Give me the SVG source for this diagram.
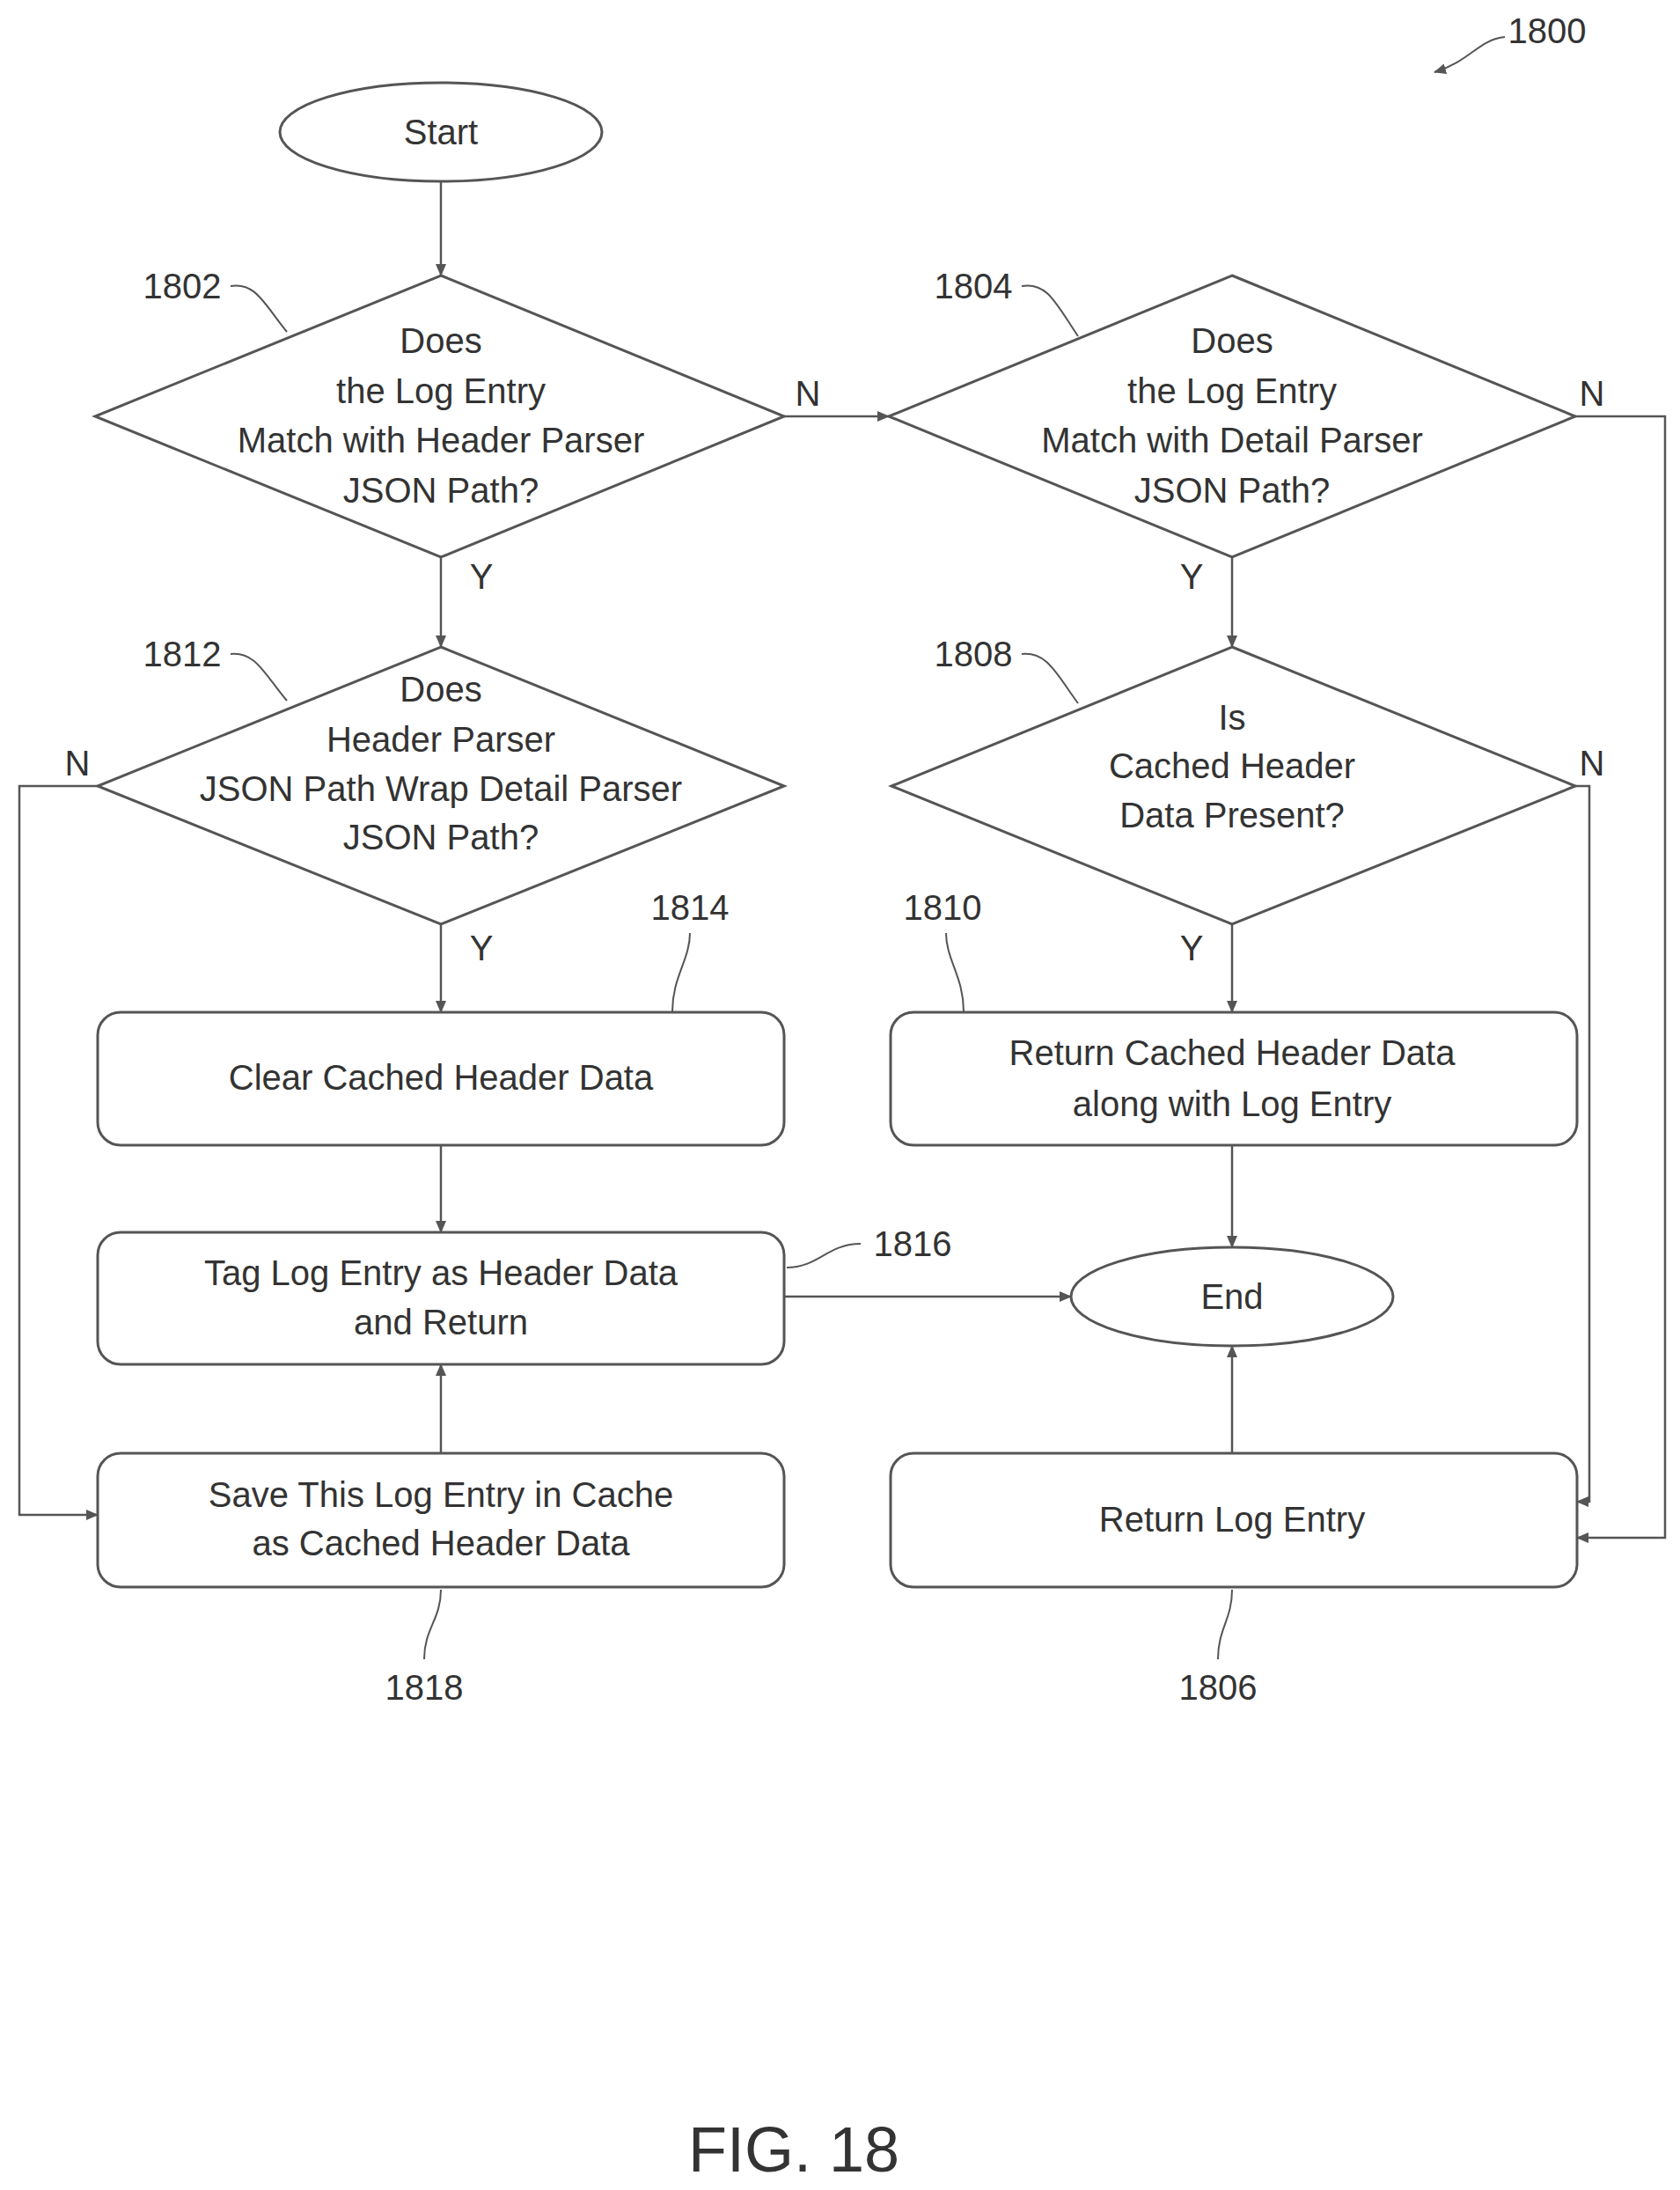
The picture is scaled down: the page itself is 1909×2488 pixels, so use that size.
<svg xmlns="http://www.w3.org/2000/svg" width="1909" height="2488" viewBox="0 0 1909 2488">
<defs>
<marker id="ah" markerWidth="14" markerHeight="12" refX="13" refY="6" orient="auto" markerUnits="userSpaceOnUse"><path d="M0,0 L14,6 L0,12 Z" fill="#555"/></marker>
<style>
.s{fill:#fff;stroke:#555;stroke-width:3}
.c{fill:none;stroke:#555;stroke-width:2.5}
.l{fill:none;stroke:#555;stroke-width:2}
text{font-family:"Liberation Sans",Arial,sans-serif;font-size:40px;fill:#333;text-anchor:middle;dominant-baseline:central}
.n{text-anchor:start}
</style>
</defs>
<rect width="1909" height="2488" fill="#fff"/>
<g id="start"><ellipse class="s" cx="501" cy="150" rx="183" ry="56"/><text x="501" y="150">Start</text></g>
<g id="d1802"><polygon class="s" points="501,313 891,473 501,633 108,473"/>
<text x="501" y="387">Does</text><text x="501" y="444">the Log Entry</text><text x="501" y="500">Match with Header Parser</text><text x="501" y="557">JSON Path?</text></g>
<g id="d1804"><polygon class="s" points="1400,313 1790,473 1400,633 1010,473"/>
<text x="1400" y="387">Does</text><text x="1400" y="444">the Log Entry</text><text x="1400" y="500">Match with Detail Parser</text><text x="1400" y="557">JSON Path?</text></g>
<g id="d1812"><polygon class="s" points="501,735 891,893 501,1050 111,893"/>
<text x="501" y="783">Does</text><text x="501" y="840">Header Parser</text><text x="501" y="896">JSON Path Wrap Detail Parser</text><text x="501" y="951">JSON Path?</text></g>
<g id="d1808"><polygon class="s" points="1400,735 1790,893 1400,1050 1013,893"/>
<text x="1400" y="815">Is</text><text x="1400" y="870">Cached Header</text><text x="1400" y="926">Data Present?</text></g>
<g id="b1814"><rect class="s" x="111" y="1150" width="780" height="151" rx="26"/><text x="501" y="1224">Clear Cached Header Data</text></g>
<g id="b1810"><rect class="s" x="1012" y="1150" width="780" height="151" rx="26"/><text x="1400" y="1196">Return Cached Header Data</text><text x="1400" y="1254">along with Log Entry</text></g>
<g id="b1816"><rect class="s" x="111" y="1400" width="780" height="150" rx="26"/><text x="501" y="1446">Tag Log Entry as Header Data</text><text x="501" y="1502">and Return</text></g>
<g id="end"><ellipse class="s" cx="1400" cy="1473" rx="183" ry="56"/><text x="1400" y="1473">End</text></g>
<g id="b1818"><rect class="s" x="111" y="1651" width="780" height="152" rx="26"/><text x="501" y="1698">Save This Log Entry in Cache</text><text x="501" y="1753">as Cached Header Data</text></g>
<g id="b1806"><rect class="s" x="1012" y="1651" width="780" height="152" rx="26"/><text x="1400" y="1726">Return Log Entry</text></g>
<g id="connectors">
<line class="c" x1="501" y1="206" x2="501" y2="313" marker-end="url(#ah)"/>
<line class="c" x1="891" y1="473" x2="1010" y2="473" marker-end="url(#ah)"/>
<line class="c" x1="501" y1="633" x2="501" y2="735" marker-end="url(#ah)"/>
<line class="c" x1="1400" y1="633" x2="1400" y2="735" marker-end="url(#ah)"/>
<polyline class="c" points="1790,473 1892,473 1892,1747 1792,1747" marker-end="url(#ah)"/>
<polyline class="c" points="1790,893 1806,893 1806,1706 1792,1706" marker-end="url(#ah)"/>
<line class="c" x1="1400" y1="1050" x2="1400" y2="1150" marker-end="url(#ah)"/>
<polyline class="c" points="111,893 22,893 22,1721 111,1721" marker-end="url(#ah)"/>
<line class="c" x1="501" y1="1050" x2="501" y2="1150" marker-end="url(#ah)"/>
<line class="c" x1="501" y1="1301" x2="501" y2="1400" marker-end="url(#ah)"/>
<line class="c" x1="501" y1="1651" x2="501" y2="1550" marker-end="url(#ah)"/>
<line class="c" x1="891" y1="1473" x2="1217" y2="1473" marker-end="url(#ah)"/>
<line class="c" x1="1400" y1="1301" x2="1400" y2="1417" marker-end="url(#ah)"/>
<line class="c" x1="1400" y1="1651" x2="1400" y2="1529" marker-end="url(#ah)"/>
<text x="918" y="447">N</text><text x="547" y="655">Y</text><text x="1354" y="655">Y</text>
<text x="1809" y="447">N</text><text x="1809" y="867">N</text><text x="1354" y="1077">Y</text>
<text x="88" y="867">N</text><text x="547" y="1077">Y</text>
</g>
<g id="refs">
<text x="207" y="325">1802</text><path class="l" d="M262,325 C290,320 300,345 326,377"/>
<text x="1106" y="325">1804</text><path class="l" d="M1161,325 C1190,320 1200,345 1225,382"/>
<text x="207" y="743">1812</text><path class="l" d="M262,743 C290,740 300,765 326,796"/>
<text x="1106" y="743">1808</text><path class="l" d="M1161,743 C1190,740 1200,765 1225,799"/>
<text x="784" y="1031">1814</text><path class="l" d="M784,1060 C784,1090 764,1110 764,1149"/>
<text x="1071" y="1031">1810</text><path class="l" d="M1075,1060 C1075,1090 1095,1110 1095,1149"/>
<text x="1037" y="1413">1816</text><path class="l" d="M894,1440 C930,1440 940,1413 978,1413"/>
<text x="482" y="1917">1818</text><path class="l" d="M501,1806 C501,1840 482,1850 482,1885"/>
<text x="1384" y="1917">1806</text><path class="l" d="M1400,1806 C1400,1840 1384,1850 1384,1885"/>
<text x="1758" y="35">1800</text><path class="l" d="M1710,42 C1680,45 1670,70 1630,82" marker-end="url(#ah)"/>
<text x="902" y="2442" style="font-size:72px">FIG. 18</text>
</g>
</svg>
